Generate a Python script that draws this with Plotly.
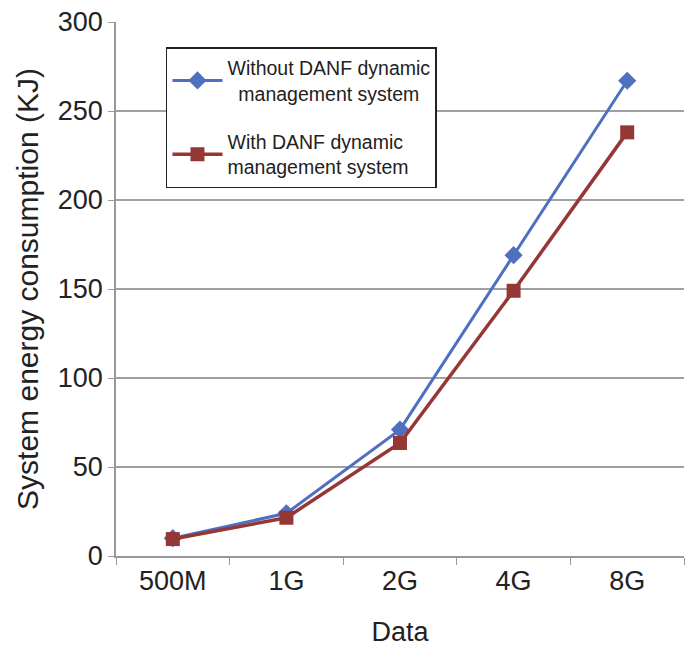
import plotly.graph_objects as go

categories = ["500M", "1G", "2G", "4G", "8G"]
without_danf = [10, 24, 71, 169, 267]
with_danf = [9.5, 21.5, 63.5, 149, 238]
y_ticks = [0, 50, 100, 150, 200, 250, 300]

FONT = "Liberation Sans, Arial, sans-serif"

fig = go.Figure()
fig.add_trace(go.Scatter(
    x=categories, y=without_danf, mode="lines+markers",
    name="Without DANF dynamic<br>  management system",
    legendgroup="g1",
    line=dict(color="#4F6FC0", width=3),
    marker=dict(symbol="diamond", size=14, color="#4F6FC0"),
))
fig.add_trace(go.Scatter(
    x=categories, y=with_danf, mode="lines+markers",
    name="With DANF dynamic<br>management system",
    legendgroup="g2",
    line=dict(color="#953735", width=3.5),
    marker=dict(symbol="square", size=14, color="#953735"),
))

fig.update_layout(
    width=689, height=650,
    margin=dict(l=116, r=5, t=22, b=94),
    paper_bgcolor="white", plot_bgcolor="white",
    font=dict(family=FONT, color="#222222"),
    showlegend=True,
    legend=dict(
        x=0.088, y=0.953, xanchor="left", yanchor="top",
        bordercolor="#222222", borderwidth=1.5, bgcolor="white",
        font=dict(family=FONT, size=19.5, color="#222222"),
        tracegroupgap=20, itemwidth=50,
    ),
    xaxis=dict(
        type="category", range=[-0.5, 4.5],
        tickson="boundaries", ticks="outside", ticklen=7, tickcolor="#999999",
        showline=True, linecolor="#999999", linewidth=2,
        showgrid=False,
        tickfont=dict(size=27, family=FONT, color="#222222"),
        title=dict(text="Data", font=dict(size=27, family=FONT, color="#222222"), standoff=27),
    ),
    yaxis=dict(
        range=[0, 300], tickvals=y_ticks,
        ticks="outside", ticklen=6, tickcolor="#999999",
        showline=True, linecolor="#999999", linewidth=1.5,
        showgrid=True, gridcolor="#A0A0A0", gridwidth=1.5,
        zeroline=False,
        tickfont=dict(size=27, family=FONT, color="#222222"),
        title=dict(text="System energy consumption (KJ)",
                   font=dict(size=30, family=FONT, color="#222222"),
                   standoff=10),
    ),
)

fig.write_html("out.html")
